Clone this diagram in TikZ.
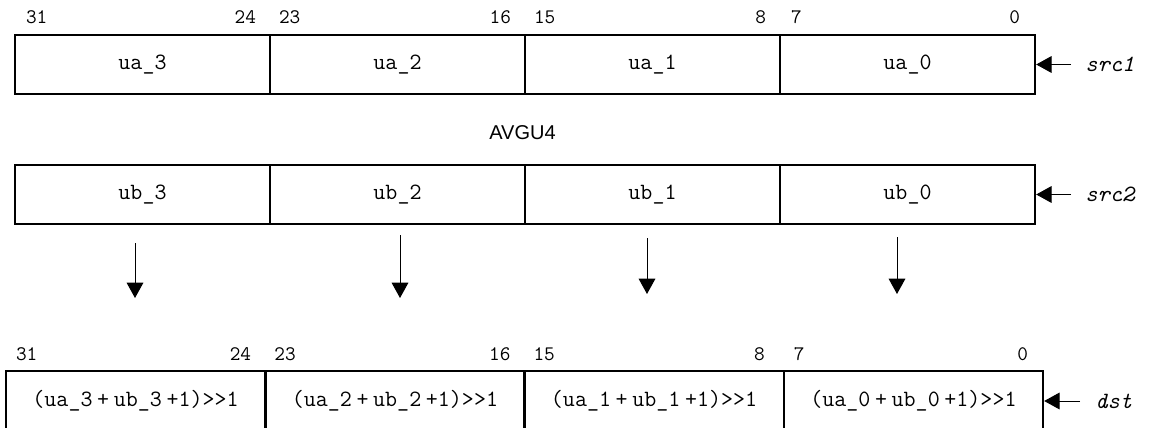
\documentclass[tikz,border=0pt]{standalone}
\usepackage{fontspec}
\setmainfont{Liberation Sans}
\usetikzlibrary{arrows.meta,calc}
\tikzset{
  cellA/.style={draw, line width=1.8pt, minimum width=191.25pt, minimum height=44.25pt, inner sep=0pt, font=\ttfamily\fontsize{17.5}{20}\selectfont},
  cellB/.style={draw, line width=1.8pt, minimum width=194.4pt, minimum height=45pt, inner sep=0pt, font=\ttfamily\fontsize{17.5}{20}\selectfont},
  bitl/.style={inner sep=0pt, font=\ttfamily\fontsize{15.5}{18}\selectfont, anchor=base west},
  bitr/.style={inner sep=0pt, font=\ttfamily\fontsize{15.5}{18}\selectfont, anchor=base east},
  reglabel/.style={inner sep=0pt, anchor=west, font=\ttfamily\itshape\fontsize{17.5}{20}\selectfont},
  conn/.style={line width=0.75pt, -{Triangle[length=11.5pt,width=12.5pt]}},
}
\newcommand{\plusop}{\kern3.5pt+\kern3.5pt}
\begin{document}
\begin{tikzpicture}[x=0.75pt,y=-0.75pt]
\useasboundingbox (0,0) rectangle (1149,428);
% row 1
\node[cellA] (a3) at (142.5,64.5) {ua\_3};
\node[cellA] (a2) at (397.5,64.5) {ua\_2};
\node[cellA] (a1) at (652.5,64.5) {ua\_1};
\node[cellA] (a0) at (907.5,64.5) {ua\_0};
% row 2
\node[cellA] (b3) at (142.5,194.5) {ub\_3};
\node[cellA] (b2) at (397.5,194.5) {ub\_2};
\node[cellA] (b1) at (652.5,194.5) {ub\_1};
\node[cellA] (b0) at (907.5,194.5) {ub\_0};
% row 3
\node[cellB] (d3) at (135.6,401) {(ua\_3\plusop ub\_3\kern3.5pt+1)>{}>1};
\node[cellB] (d2) at (394.9,401) {(ua\_2\plusop ub\_2\kern3.5pt+1)>{}>1};
\node[cellB] (d1) at (654.1,401) {(ua\_1\plusop ub\_1\kern3.5pt+1)>{}>1};
\node[cellB] (d0) at (913.4,401) {(ua\_0\plusop ub\_0\kern3.5pt+1)>{}>1};
% bit labels row 1
\node[bitl] (t31) at ($(a3.north west)+(12,-10)$) {31};
\node[bitr] (t24) at ($(a3.north east)+(-15,-10)$) {24};
\node[bitl] (t23) at ($(a2.north west)+(10,-10)$) {23};
\node[bitr] (t16) at ($(a2.north east)+(-15,-10)$) {16};
\node[bitl] (t15) at ($(a1.north west)+(10,-10)$) {15};
\node[bitr] (t8) at ($(a1.north east)+(-15,-10)$) {8};
\node[bitl] (t7) at ($(a0.north west)+(12,-10)$) {7};
\node[bitr] (t0) at ($(a0.north east)+(-16,-10)$) {0};
% bit labels row 3
\node[bitl] (u31) at ($(d3.north west)+(11,-9)$) {31};
\node[bitr] (u24) at ($(d3.north east)+(-15,-9)$) {24};
\node[bitl] (u23) at ($(d2.north west)+(10,-9)$) {23};
\node[bitr] (u16) at ($(d2.north east)+(-15,-9)$) {16};
\node[bitl] (u15) at ($(d1.north west)+(10,-9)$) {15};
\node[bitr] (u8) at ($(d1.north east)+(-20,-9)$) {8};
\node[bitl] (u7) at ($(d0.north west)+(11,-9)$) {7};
\node[bitr] (u0) at ($(d0.north east)+(-16,-9)$) {0};
% title
\node[inner sep=0pt, font=\fontsize{15}{18}\selectfont] (title) at (522.5,133) {AVGU4};
% register labels
\node[reglabel] (s1) at (1085,64.5) {src1};
\node[reglabel] (s2) at (1085,194.5) {src2};
\node[reglabel] (ds) at (1095,401) {dst};
\coordinate (s1t) at (1071,64.5);
\coordinate (s2t) at (1071,194.5);
\coordinate (dst) at (1080,401);
\draw[conn] (s1t) -- (a0.east);
\draw[conn] (s2t) -- (b0.east);
\draw[conn] (dst) -- (d0.east);
% vertical arrows
\coordinate (v3s) at (135,243); \coordinate (v3e) at (135,298);
\coordinate (v2s) at (400,235); \coordinate (v2e) at (400,298);
\coordinate (v1s) at (647,238); \coordinate (v1e) at (647,294);
\coordinate (v0s) at (897,237); \coordinate (v0e) at (897,294);
\draw[conn] (v3s) -- (v3e);
\draw[conn] (v2s) -- (v2e);
\draw[conn] (v1s) -- (v1e);
\draw[conn] (v0s) -- (v0e);
\end{tikzpicture}
\end{document}
